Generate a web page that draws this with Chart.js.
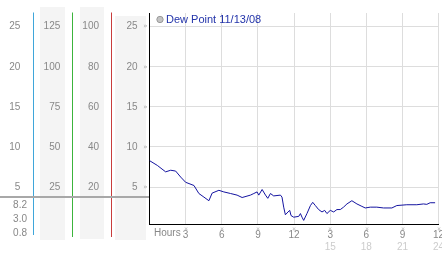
<!DOCTYPE html>
<html><head><meta charset="utf-8">
<script src="https://cdn.jsdelivr.net/npm/chart.js@4/dist/chart.umd.min.js"></script>
<style>html,body{margin:0;padding:0;background:#fff}#wrap{width:442px;height:253px;position:relative}canvas{display:block}</style>
</head><body><div id="wrap"><canvas id="c" width="442" height="253"></canvas></div>
<script>
const seriesName = 'Dew Point 11/13/08';
const hours = [0,0.65,1.34,1.76,2.17,2.59,3.0,3.69,4.1,4.52,
  4.93,5.2,5.76,6.17,6.73,7.27,7.69,8.38,8.66,8.93,
  9.07,9.35,9.63,9.82,10.04,10.31,10.87,11.0,11.14,11.28,
  11.5,11.64,11.75,11.97,12.39,12.53,12.66,12.8,13.07,13.36,
  13.55,13.77,14.04,14.32,14.54,14.73,15.01,15.29,15.56,15.84,
  16.11,16.39,16.8,17.22,17.63,17.91,18.33,18.87,19.43,20.12,
  20.53,21.36,22.19,22.74,23.02,23.3,23.71];
const dewPoint = [8.3,7.7,6.9,7.1,7.0,6.25,5.6,5.2,4.2,3.75,
  3.3,4.25,4.6,4.4,4.2,4.0,3.7,4.0,4.2,4.4,
  4.0,4.7,4.0,3.6,4.2,3.9,4.0,3.75,2.5,1.55,
  1.9,2.1,1.45,1.25,1.35,1.7,1.25,0.85,1.7,2.7,
  3.1,2.7,2.2,1.9,2.1,1.7,2.1,1.9,2.2,2.2,
  2.5,2.9,3.3,2.9,2.6,2.4,2.5,2.5,2.4,2.4,
  2.7,2.8,2.8,2.9,2.85,3.05,3.05];
const dewTicks = [5,10,15,20,25];
const colALabels = ['5','10','15','20','25'];
const colBLabels = ['25','50','75','100','125'];
const colCLabels = ['20','40','60','80','100'];
const colDLabels = ['5','10','15','20','25'];
const lowerLabels = ['8.2','3.0','0.8'];
const hourTicks = [3,6,9,12,15,18,21,24];
const hourLabels = ['3','6','9','12','3','6','9','12'];
const hourLabels24 = ['','','','','15','18','21','24'];
const axisTitle = 'Hours';

const FONT = {family:'"Liberation Sans", Arial, sans-serif', size:10};
const TICK = '#888';

function sideAxis(labels, weight, width, pad, extra) {
  return Object.assign({
    type:'linear', position:'left', weight, min:0.4, max:26.7,
    afterBuildTicks: s => { s.ticks = dewTicks.map(v => ({value:v})); },
    ticks:{callback:(v,i) => labels[i], color:TICK, font:FONT, padding:pad},
    grid:{display:false, drawTicks:false}, border:{display:false},
    afterFit: s => { s.width = width; s.paddingTop = 0; s.paddingBottom = 0; }
  }, extra || {});
}

const deco = {
  id:'deco',
  beforeDraw(chart){
    const ctx = chart.ctx, s = chart.scales;
    if (chart.legend) {
      const h = chart.legend.bottom - chart.legend.top;
      chart.legend.top = 4; chart.legend.bottom = 4 + h;
    }
    ctx.save();
    ctx.fillStyle = '#f4f4f4';
    ctx.fillRect(40, 7, 25, 233);
    ctx.fillRect(80, 7, 24, 232);
    ctx.fillRect(115, 16, 31, 224);
    ctx.lineWidth = 1;
    const vl = (x, y1, y2, c) => { ctx.strokeStyle = c; ctx.beginPath(); ctx.moveTo(x, y1); ctx.lineTo(x, y2); ctx.stroke(); };
    vl(Math.round(s.yB.left)+0.5, 12.5, 235, '#3fa6da');
    vl(Math.round(s.yC.left)+0.5, 12.5, 237, '#3cb43c');
    vl(Math.round(s.y.left)+0.5, 12.5, 237, '#c83c3c');
    const gy = s.y.getPixelForValue(5) + 10;
    ctx.strokeStyle = '#a8a8a8'; ctx.lineWidth = 2;
    ctx.beginPath(); ctx.moveTo(0, gy); ctx.lineTo(chart.chartArea.left, gy); ctx.stroke();
    ctx.restore();
  },
  afterDraw(chart){
    const ctx = chart.ctx, s = chart.scales, ca = chart.chartArea;
    ctx.save();
    ctx.font = '10px "Liberation Sans", Arial, sans-serif';
    ctx.fillStyle = TICK; ctx.textAlign = 'right'; ctx.textBaseline = 'middle';
    const gy = s.y.getPixelForValue(5) + 10;
    lowerLabels.forEach((t, i) => ctx.fillText(t, 27, gy + 8.5 + i * 13.7));
    ctx.textAlign = 'left';
    ctx.fillText(axisTitle, ca.left + 4.5, ca.bottom + 9);
    ctx.fillStyle = '#aaa'; ctx.font = '7px "DejaVu Sans", sans-serif'; ctx.textAlign = 'center';
    dewTicks.forEach(v => ctx.fillText('\u00bb', ca.left - 4, s.y.getPixelForValue(v)));
    hourTicks.forEach(h => {
      ctx.save(); ctx.translate(s.x.getPixelForValue(h), ca.bottom + 5); ctx.rotate(Math.PI/2);
      ctx.fillText('\u00bb', 0, 0); ctx.restore();
    });
    ctx.restore();
  }
};

new Chart(document.getElementById('c'), {
  type:'line',
  data:{datasets:[{
    label:seriesName,
    data:hours.map((h,i) => ({x:h, y:dewPoint[i]})),
    borderColor:'#1414a0', backgroundColor:'#1414a0', borderWidth:1,
    pointRadius:0, tension:0, xAxisID:'x', yAxisID:'y'
  }]},
  options:{
    responsive:false, animation:false, devicePixelRatio:1,
    layout:{padding:{top:13, left:0, right:3.4, bottom:0}},
    plugins:{
      tooltip:{enabled:false},
      legend:{
        position:'chartArea', align:'start',
        labels:{
          usePointStyle:true, boxHeight:4.5, boxWidth:1, padding:10,
          color:'#2233aa', font:{family:'"Liberation Sans", Arial, sans-serif', size:11},
          generateLabels: ch => Chart.defaults.plugins.legend.labels.generateLabels(ch).map(l =>
            Object.assign(l, {fillStyle:'#c4c4c4', strokeStyle:'#999', lineWidth:1, pointStyle:'circle', fontColor:'#2233aa'}))
        }
      }
    },
    scales:{
      x:{type:'linear', position:'bottom', weight:0, min:0, max:24,
        afterBuildTicks: s => { s.ticks = hourTicks.map(v => ({value:v})); },
        ticks:{callback:(v,i) => hourLabels[i], color:TICK, font:FONT, padding:5, maxRotation:0, autoSkip:false},
        grid:{color:'#dddddd', drawTicks:false}, border:{color:'#000', width:1},
        afterFit: s => { s.height = 17; s.paddingLeft = 0; s.paddingRight = 0; }
      },
      x2:{type:'linear', position:'bottom', weight:1, min:0, max:24,
        afterBuildTicks: s => { s.ticks = hourTicks.map(v => ({value:v})); },
        ticks:{callback:(v,i) => hourLabels24[i], color:'#cccccc', font:FONT, padding:0, maxRotation:0, autoSkip:false},
        grid:{display:false, drawTicks:false}, border:{display:false},
        afterFit: s => { s.height = 12; s.paddingLeft = 0; s.paddingRight = 0; }
      },
      yA: sideAxis(colALabels, 4, 33.3, 13),
      yB: sideAxis(colBLabels, 3, 39, 12),
      yC: sideAxis(colCLabels, 2, 38.7, 12),
      y: sideAxis(colDLabels, 1, 38.5, 12, {
        grid:{display:true, color:'#dddddd', drawTicks:false},
        border:{display:true, color:'#000', width:1}
      })
    }
  },
  plugins:[deco]
});
</script></body></html>
